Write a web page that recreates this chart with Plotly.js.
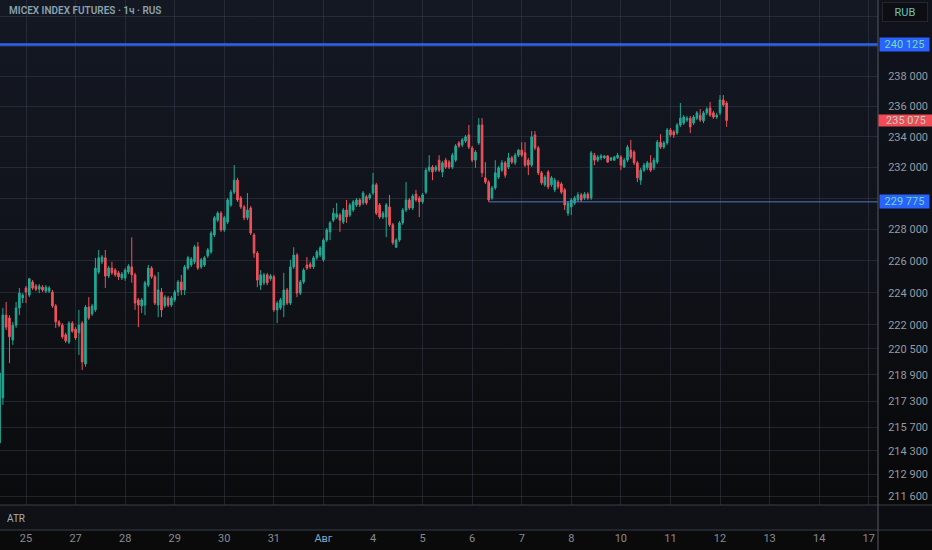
<!DOCTYPE html>
<html>
<head>
<meta charset="utf-8">
<script src="https://cdn.plot.ly/plotly-3.0.1.min.js"></script>
<style>
  html, body { margin: 0; padding: 0; }
  body { width: 932px; height: 550px; overflow: hidden;
         background: linear-gradient(to bottom, #141823 0%, #10131a 45%, #0b0c0e 85%, #0a0a0b 100%); }
  #chart { width: 932px; height: 550px; }
</style>
</head>
<body>
<div id="chart"></div>
<script>
// ---- data (hourly candles, MICEX index futures) ----
const openPrices = [
214775,217500,222600,222425,221050,221975,223050,223675,224300,223850,
224675,224425,224225,224350,224100,224100,224050,223175,222175,221975,
221375,220925,222100,221725,221500,222100,219575,223100,222675,222925,
225300,225950,226200,225050,225550,225425,225250,224925,224925,225300,
225625,225125,223550,223175,223225,224475,225550,225000,223225,224050,
223175,223675,223225,223550,224050,224675,224175,225550,225750,225950,
226900,225625,225750,226325,226575,227650,228600,229050,227975,228475,
229575,230400,231175,230025,229450,228750,229375,227650,226500,224475,
224625,225125,224875,225000,222925,223050,223225,224175,223350,225625,
226375,223975,224675,225750,225800,225625,226200,226375,226075,227325,
227850,228600,228800,228925,228475,229250,228925,229250,229575,229900,
229700,230100,230025,230350,230875,229575,228800,228800,229450,228300,
226875,227325,228425,229250,229900,229375,230275,230025,229775,230400,
231825,232025,231825,232475,231700,232475,232350,232025,232475,233600,
233475,233725,234125,233275,232475,233600,234775,231325,231050,230025,
230675,231375,231825,232300,232025,232625,232300,232800,233125,232950,
232475,232150,234125,233275,231650,230875,231700,230875,230550,231050,
230925,230550,229050,229450,229700,229900,230225,230025,230275,230025,
232800,232475,232625,232625,232750,232475,232475,232625,232675,232025,
232475,233125,233000,232300,231175,231825,231975,232300,231975,232350,
233650,233325,233600,234450,234325,234250,234775,234900,235100,235225,
234900,235225,235425,235050,235575,235900,235575,235300,235575,236425,
236225
];
const highPrices = [
219200,223050,223425,222600,222175,223425,224300,223975,224425,224925,
224800,224550,224550,224475,224475,224425,224175,223300,222300,222100,
221500,222225,222225,221850,222925,222225,223225,223725,223300,226200,
226700,226375,226700,225675,225950,225550,225375,225300,225550,225800,
227500,225250,223675,223675,224750,225750,225675,225125,225300,224300,
223850,223800,223800,224175,224800,225125,225750,226325,226250,227025,
227200,226200,226325,226825,227900,228875,229175,229175,228875,230025,
230550,232150,231325,230150,229575,230350,229500,227775,226625,225425,
225250,225250,225175,225125,223475,223675,225250,224300,226075,226875,
226500,224800,225550,226250,225950,226325,226700,226950,227450,228100,
228550,229375,229700,229050,229375,229900,229700,229900,230025,230025,
230475,230225,230350,231650,231000,229700,229175,229700,230225,228425,
227450,228550,229375,231050,230025,230275,230550,230150,230350,231975,
232800,232150,232150,232800,232425,232625,232475,232950,233525,233725,
233925,234125,234775,233400,233125,235225,235225,232350,231175,230800,
232475,232100,232475,232425,232950,232750,232950,233200,233650,233650,
232625,234375,234375,233400,231775,231500,231825,231450,231325,231175,
231050,230675,229825,230025,230150,230400,230350,230400,230400,233075,
232950,232800,232875,232800,232800,232675,232750,232950,232800,232625,
233475,233800,233125,232425,231975,232300,232425,232800,232625,233800,
234175,233725,234575,234575,234450,234900,236225,235425,235375,235375,
235425,235700,235825,235700,235950,236300,235700,235575,236750,236750,
236350
];
const lowPrices = [
214575,217075,221675,219625,220750,221800,222600,223350,223350,223725,
224175,224100,223975,224050,223975,223975,223050,221800,221850,221125,
220875,220800,221500,221050,220125,219200,219400,222300,222550,222800,
225175,225800,224300,224925,225125,225000,224800,224800,224750,225175,
224625,222925,221850,222725,222600,224350,224875,223225,222475,222475,
223050,223100,223100,223425,223800,223850,223850,225425,225625,225800,
225425,225500,225625,226200,226450,227525,228475,227850,227850,228350,
229450,230275,229775,229325,228600,228600,227650,226200,224350,224175,
224475,224475,224750,222800,222100,222925,222475,223225,223225,225500,
223725,223850,224550,225425,225500,225500,226075,226250,225950,227200,
227325,228475,228675,227850,228350,228425,228800,229125,229450,229450,
229575,229575,229900,230225,228925,228675,228675,227525,228175,227025,
226825,227200,228300,229125,229250,229250,229775,228800,229650,230275,
231700,231175,231700,231700,231375,231900,231900,231900,232350,233275,
233325,233600,233200,232350,231975,233475,231375,230925,229775,229900,
230550,231250,231700,231325,231900,232225,232150,232675,232675,232025,
231500,232025,233125,231500,230875,230750,230600,230750,230400,230600,
230275,229250,228875,228925,229575,229775,229775,229900,229900,229900,
232150,232350,232475,232550,232300,232425,232425,232550,231825,231975,
232350,232550,232150,231050,230875,231700,231825,231700,231825,232225,
233200,233200,233475,234000,233925,234125,234650,234775,234975,234250,
234775,235100,234975,234900,235425,235300,235175,235175,235425,235975,
234650
];
const closePrices = [
219025,222600,221850,221250,221975,223050,223975,223850,224050,224875,
224300,224225,224425,224175,224350,224300,223175,222175,221975,221250,
221000,222100,221600,221175,221975,219700,223100,222425,223175,225550,
226200,226250,225050,225550,225250,225125,225000,225175,225425,225675,
225125,223350,223225,223550,224625,225550,225000,223350,224175,222925,
223725,223225,223675,224050,224675,224175,225625,226200,226125,226900,
225550,226075,226200,226700,227775,228750,229050,227975,228750,229900,
230400,231175,229900,229450,228750,229250,227775,226500,224800,225125,
225125,224625,225050,222925,223350,223550,224175,223350,225625,226375,
223975,224675,225425,225550,225625,226200,226575,226825,227325,227975,
228425,229050,229000,228600,229250,228800,229575,229775,229900,229575,
230350,229700,230225,230875,229050,228800,229050,229575,228300,227150,
227325,228425,229250,229900,229375,230150,229900,229775,230225,231825,
232025,231700,232025,231825,232300,232025,232025,232800,233400,233400,
233800,234000,233325,232475,233000,234775,231650,231050,229900,230675,
231650,231975,232300,231500,232625,232350,232800,233125,232800,232150,
232150,234000,233275,231650,231000,231375,230750,231325,231175,230750,
230400,229575,229700,229900,230025,230225,229900,230275,230025,232950,
232475,232675,232750,232750,232350,232625,232675,232800,232150,232475,
233325,232675,232300,231325,231825,232150,232300,231825,232475,233650,
233325,233600,234450,234125,234125,234775,235225,235300,235225,234650,
235300,235575,235100,235575,235825,235425,235300,235425,236425,236100,
235075
];
const dayLabels = ['25','27','28','29','30','31','Авг','4','5','6','7','8','10','11','12','13','14','17'];
const priceTicks = [242000,240000,238000,236000,234000,232000,230000,228000,226000,224000,222000,220500,218900,217300,215700,214300,212900,211600];
const priceTickText = ['','','238 000','236 000','234 000','232 000','','228 000','226 000','224 000','222 000','220 500','218 900','217 300','215 700','214 300','212 900','211 600'];
const levelTop = 240125;
const levelLow = 229775;
const lastPrice = 235075;
const barsPerDay = 15;
const firstDayBar = 8;

// ---- derived positions ----
const barIndex = openPrices.map((_, i) => i);
const dayTickVals = dayLabels.map((_, k) => firstDayBar + barsPerDay * k);
const dayTickText = dayLabels.map(t => t === 'Авг' ? '<span style="color:#7fa8c4">' + t + '</span>' : t);
const xRange = [0.133, 265.8];
const levelLowStart = 148;

const FONT = 'Roboto, "Noto Sans", "DejaVu Sans", sans-serif';
const GRID = 'rgba(62,67,82,0.45)';
const paneFrac = 25 / 530;
const rightEdge = 932 / 878;

const traces = [
  {
    type: 'candlestick',
    x: barIndex, open: openPrices, high: highPrices, low: lowPrices, close: closePrices,
    increasing: { line: { color: '#22a894', width: 1 }, fillcolor: '#22a894' },
    decreasing: { line: { color: '#f0525a', width: 1 }, fillcolor: '#f0525a' },
    whiskerwidth: 0,
    hoverinfo: 'skip'
  },
  {
    type: 'scatter', mode: 'lines',
    x: [xRange[0], xRange[1]], y: [levelTop, levelTop],
    line: { color: '#2f63f5', width: 2.5 }, hoverinfo: 'skip'
  },
  {
    type: 'scatter', mode: 'lines',
    x: [levelLowStart, xRange[1]], y: [levelLow, levelLow],
    line: { color: '#5676c4', width: 1 }, hoverinfo: 'skip'
  }
];

const layout = {
  width: 932, height: 550,
  margin: { l: 0, r: 54, t: 0, b: 20, pad: 0 },
  paper_bgcolor: 'rgba(0,0,0,0)',
  plot_bgcolor: 'rgba(0,0,0,0)',
  showlegend: false,
  font: { family: FONT },
  xaxis: {
    range: xRange, tickmode: 'array', tickvals: dayTickVals, ticktext: dayTickText,
    showgrid: true, gridcolor: GRID, gridwidth: 1, zeroline: false, showline: false,
    ticks: '', tickfont: { size: 11, color: '#878a93', family: FONT },
    anchor: 'free', position: 0,
    rangeslider: { visible: false }, fixedrange: true
  },
  yaxis: {
    type: 'log', range: [5.324424, 5.385859], domain: [paneFrac, 1], side: 'right',
    tickmode: 'array', tickvals: priceTicks, ticktext: priceTickText,
    showgrid: true, gridcolor: GRID, gridwidth: 1, zeroline: false, showline: false,
    ticks: 'outside', ticklen: 7, tickcolor: 'rgba(0,0,0,0)',
    tickfont: { size: 11, color: '#959aa3', family: FONT },
    fixedrange: true
  },
  shapes: [
    { type: 'rect', xref: 'paper', yref: 'paper', x0: 0, x1: rightEdge, y0: 0, y1: paneFrac,
      fillcolor: '#0f1116', line: { width: 0 }, layer: 'below' },
    { type: 'rect', xref: 'paper', yref: 'paper', x0: 1, x1: rightEdge, y0: -20/530, y1: 1,
      fillcolor: 'rgba(0,0,0,0.18)', line: { width: 0 }, layer: 'below' },
    { type: 'line', xref: 'paper', yref: 'paper', x0: 0, x1: rightEdge, y0: paneFrac, y1: paneFrac,
      line: { color: '#3a3e49', width: 1.2 } },
    { type: 'line', xref: 'paper', yref: 'paper', x0: 0, x1: rightEdge, y0: 0, y1: 0,
      line: { color: '#3a3e49', width: 1.2 } },
    { type: 'line', xref: 'paper', yref: 'paper', x0: 1, x1: 1, y0: -20/530, y1: 1,
      line: { color: '#4a4e59', width: 1.2 } }
  ],
  annotations: [
    { xref: 'paper', yref: 'paper', x: 7/878, y: (530-11)/530, xanchor: 'left', yanchor: 'middle',
      text: 'MICEX INDEX FUTURES · 1ч · RUS', showarrow: false,
      font: { family: FONT, size: 10, color: '#8aa2ae', weight: 600 } },
    { xref: 'paper', yref: 'paper', x: 5/878, y: (530-518)/530, xanchor: 'left', yanchor: 'middle',
      text: 'ATR', showarrow: false, font: { family: FONT, size: 10, color: '#a9adb5' } },
    { xref: 'paper', yref: 'paper', x: 905/878, y: (530-12)/530, xanchor: 'center', yanchor: 'middle',
      text: 'RUB', showarrow: false, width: 42, height: 16, bgcolor: '#0c0e13',
      bordercolor: '#23262f', borderwidth: 1, borderpad: 1,
      font: { family: FONT, size: 11, color: '#6fc2b8' } },
    { xref: 'paper', yref: 'y', x: 1, y: Math.log10(levelTop), xanchor: 'left', yanchor: 'middle',
      xshift: 1, text: '240 125', showarrow: false, width: 49, height: 13, bgcolor: '#2962ff',
      borderpad: 0, font: { family: FONT, size: 11, color: '#72dcb6' } },
    { xref: 'paper', yref: 'y', x: 1, y: Math.log10(levelLow), xanchor: 'left', yanchor: 'middle',
      xshift: 1, text: '229 775', showarrow: false, width: 49, height: 13, bgcolor: '#2962ff',
      borderpad: 0, font: { family: FONT, size: 11, color: '#72dcb6' } },
    { xref: 'paper', yref: 'y', x: 1, y: Math.log10(lastPrice), xanchor: 'left', yanchor: 'middle',
      xshift: 0, text: '235 075', showarrow: false, width: 54, height: 11, bgcolor: '#f24b55',
      borderpad: 0, font: { family: FONT, size: 11, color: '#b8d4cc' } }
  ]
};

Plotly.newPlot('chart', traces, layout, { displayModeBar: false, staticPlot: true });
</script>
</body>
</html>
